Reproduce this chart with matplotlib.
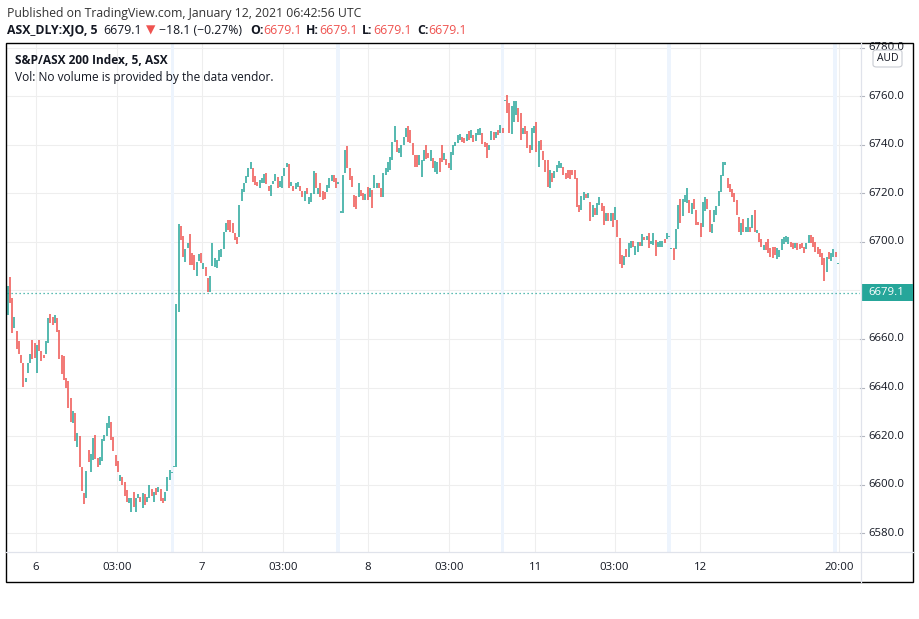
import matplotlib

matplotlib.use("Agg")
import matplotlib.pyplot as plt
import numpy as np
from matplotlib.patches import Rectangle, FancyBboxPatch

W, H = 920, 619

# 5-minute bars, S&P/ASX 200, one list pair per trading day (open, close)
jan06_open = [
    6670, 6685.5, 6677, 6664.5, 6663.3, 6659, 6653.4, 6650, 6642.3, 6646,
    6650, 6659.6, 6658.4, 6646, 6659.6, 6655, 6653.4, 6654, 6658.4, 6670.3,
    6669, 6666.6, 6668.7, 6663.7, 6653.4, 6653, 6644, 6642.7, 6635.7, 6625.4,
    6629.5, 6615.4, 6620, 6607.2, 6596.5, 6594.4, 6614.2, 6605.2, 6610, 6620.4,
    6611, 6608, 6609.7, 6617.9, 6620, 6623.3, 6625.8, 6619.6, 6612.2, 6609.7,
    6601.4, 6603, 6601, 6597.7, 6592.4, 6588.7, 6596.9, 6588.7, 6594.4, 6594.8,
    6590.3, 6596, 6592.8, 6594.4, 6598.2, 6592.8, 6598.6, 6596.9, 6598.2, 6594.4,
    6593.2, 6597.3, 6601.9, 6604.7, 6607.2,
]
jan06_close = [
    6682, 6675, 6662.5, 6669, 6656, 6654, 6650, 6640.2, 6644, 6650,
    6654, 6651.8, 6652.2, 6657.5, 6655, 6651, 6652, 6659, 6668.7, 6666.6,
    6665.8, 6670, 6662.9, 6651.8, 6645.6, 6643, 6639.8, 6631.5, 6625.8, 6630.3,
    6617.9, 6621.2, 6607.2, 6597.3, 6592, 6605.6, 6609.3, 6612.6, 6619, 6610.5,
    6607.2, 6611.3, 6618.8, 6620.4, 6625.4, 6628.2, 6618.4, 6613.8, 6607.6, 6605.2,
    6603.9, 6600, 6595.3, 6592.8, 6594.4, 6594.4, 6590.7, 6594.4, 6596, 6592.8,
    6596.5, 6591.5, 6594.8, 6600, 6595.3, 6596.9, 6595.7, 6599, 6593.2, 6592.4,
    6596.9, 6603, 6606, 6604.7, 6607.2,
]
jan07_open = [
    6607.2, 6671.3, 6706.6, 6702.5, 6691.8, 6697.5, 6703.3, 6695.5, 6694.6, 6686,
    6692.2, 6695.5, 6688.9, 6689.7, 6685.2, 6679.4, 6690, 6689.7, 6689.3, 6692.2,
    6693.8, 6697.1, 6704.1, 6709, 6709, 6707.8, 6703.7, 6702, 6702, 6716.9,
    6720.6, 6724.3, 6726.8, 6730.1, 6730.5, 6727.2, 6724.7, 6722.3, 6724.3, 6724.3,
    6728.5, 6723, 6719, 6724, 6725.2, 6726.8, 6722.7, 6722.3, 6727.2, 6730.9,
    6732.2, 6723, 6723, 6721.9, 6722.7, 6723, 6721, 6717, 6722.3, 6715.7,
    6716.5, 6719.8, 6728.5, 6719.8, 6724.3, 6721, 6720.6, 6720.6, 6722.3, 6725.2,
    6727.6, 6726.4, 6724, 6712,
]
jan07_close = [
    6674.4, 6707.3, 6700.8, 6693.8, 6697, 6699.6, 6690.5, 6690.5, 6688.5, 6691.8,
    6695, 6691.3, 6691.3, 6686, 6679.4, 6686, 6699.6, 6693.4, 6692.6, 6696.7,
    6697.1, 6704, 6707.8, 6705, 6704.1, 6703.7, 6700.8, 6699.2, 6715.3, 6721.9,
    6724.3, 6727.2, 6730.5, 6733, 6724.7, 6723.5, 6723, 6725.6, 6726.4, 6728,
    6724, 6721, 6723.5, 6725.2, 6728, 6722.3, 6725.2, 6727.2, 6730.5, 6732.6,
    6722.3, 6724.7, 6721, 6724.3, 6724.7, 6721, 6718.6, 6721, 6719.8, 6718.6,
    6720.2, 6729.3, 6722.3, 6722.3, 6718.6, 6717.3, 6717.7, 6723.5, 6726.4, 6727.6,
    6724.7, 6722.3, 6724, 6712,
]
jan08_open = [
    6712, 6728.3, 6739.6, 6730.4, 6727.2, 6719.4, 6719, 6718.7, 6721.4, 6720.3,
    6717.3, 6722.6, 6718.4, 6721.4, 6722.1, 6722.1, 6724.5, 6722.1, 6718.7, 6727.6,
    6729, 6729.7, 6733.8, 6741.4, 6742.1, 6736.6, 6735.2, 6739.9, 6743.4, 6747.8,
    6746.2, 6740.7, 6735.9, 6735.9, 6731.8, 6726.9, 6733.5, 6740, 6736.6, 6733.5,
    6734.5, 6728.8, 6728, 6734.5, 6740, 6733.8, 6734.2, 6732.5, 6729.7, 6735.9,
    6739.5, 6740.7, 6742.1, 6743.4, 6742.8, 6741.6, 6745.8, 6743, 6744.1, 6741.6,
    6744.1, 6744.1, 6744.8, 6741.4, 6740.7, 6737.9, 6742.1, 6745.5, 6743, 6746.2,
    6744.8, 6746.9,
]
jan08_close = [
    6727.6, 6738, 6730.4, 6725.6, 6722.6, 6714.3, 6713.5, 6724.2, 6719, 6717.3,
    6719.8, 6717.3, 6722.1, 6713.9, 6727.6, 6724.2, 6722.1, 6718.7, 6728.3, 6730.4,
    6733.1, 6735.2, 6741.4, 6747.6, 6737.2, 6738.6, 6740, 6743.4, 6746.9, 6741,
    6740.7, 6735.9, 6731.1, 6730.8, 6735.9, 6733.8, 6737.9, 6734.1, 6734.5, 6737.9,
    6730.4, 6733.4, 6732.9, 6728.8, 6733.1, 6736.6, 6731.8, 6730.4, 6737.2, 6740,
    6741.1, 6744.1, 6744.4, 6741.1, 6740.7, 6744.4, 6742.1, 6746.2, 6741.4, 6744.8,
    6746.6, 6746.9, 6740.3, 6739.3, 6734.8, 6740, 6745.8, 6742.1, 6745.5, 6744.1,
    6748.2, 6744.8,
]
jan11_open = [
    6757.9, 6760.6, 6757.2, 6744.4, 6749.6, 6752.3, 6755.1, 6753.1, 6744.4, 6748,
    6745.8, 6740, 6738, 6744.8, 6749.6, 6730.8, 6742.1, 6737.5, 6733.8, 6733.8,
    6722.1, 6728.3, 6726.3, 6728.7, 6730.4, 6730.6, 6731.1, 6728.3, 6729.7, 6729.7,
    6729.7, 6729.7, 6726.3, 6715.3, 6713.2, 6717.3, 6719.7, 6718.1, 6716.6, 6710.4,
    6713.9, 6711.1, 6715.3, 6716.2, 6714.9, 6708.6, 6712.1, 6708.6, 6711.8, 6708.9,
    6709.1, 6701.5, 6694.6, 6690.5, 6697, 6693.7, 6697.4, 6700.5, 6694.6, 6696,
    6700.1, 6698.4, 6702.2, 6700.8, 6703.6, 6699.2, 6698.8, 6700.8, 6697.8, 6698.1,
    6698.1, 6701.1, 6701.1, 6702,
]
jan11_close = [
    6757.9, 6753.1, 6744.8, 6756.2, 6758.1, 6758.1, 6749.4, 6742.1, 6747.1, 6744.4,
    6738.6, 6736.6, 6746.9, 6747.6, 6737.2, 6741.6, 6737.9, 6733.8, 6728.7, 6722.8,
    6729.7, 6724.9, 6729.3, 6731.8, 6733.4, 6732.5, 6727.6, 6726, 6726.3, 6726,
    6727.6, 6726, 6714.6, 6712.5, 6719.1, 6720.5, 6718.3, 6720.1, 6708.7, 6715.3,
    6711.1, 6716, 6718.4, 6712.9, 6707, 6711.8, 6708.6, 6711.8, 6706.1, 6714.6,
    6702.2, 6690.9, 6689.2, 6694.2, 6693.7, 6699.7, 6700.5, 6698.1, 6698.4, 6700.1,
    6698.4, 6703.3, 6700.8, 6702.5, 6697.4, 6700.5, 6703.6, 6694.2, 6700.1, 6700.5,
    6700.5, 6699.5, 6703.6, 6702,
]
jan12_open = [
    6697, 6697.4, 6697, 6705.2, 6717.6, 6710.7, 6716.3, 6716, 6717.3, 6711.4,
    6717.6, 6713.2, 6708.4, 6707.7, 6706.1, 6712.9, 6717.6, 6713.2, 6703.6, 6708.4,
    6711.1, 6714.9, 6720.7, 6727.2, 6731.8, 6726.3, 6724, 6721.7, 6720.3, 6717.3,
    6710.4, 6702.9, 6709.4, 6704.3, 6704.3, 6706.1, 6705.7, 6713.2, 6703.6, 6703.6,
    6701.1, 6696.7, 6700.1, 6701.1, 6697.4, 6698.1, 6698.1, 6692.9, 6693.9, 6696.7,
    6699.2, 6700.1, 6699.2, 6700.1, 6699.7, 6697.4, 6699.7, 6699.2, 6699.7, 6698.1,
    6697, 6699.5, 6702.9, 6702, 6700.1, 6698.1, 6697, 6695.3, 6693.3, 6687.7,
    6696, 6692.3, 6693.9, 6696, 6690.9,
]
jan12_close = [
    6697, 6692.6, 6705.2, 6715.3, 6708, 6717.6, 6719.4, 6722.2, 6711.8, 6716.2,
    6713.5, 6707, 6707, 6702, 6716.6, 6718.7, 6713.5, 6704.3, 6707.4, 6713.2,
    6714.9, 6721.2, 6727.6, 6733.1, 6733.1, 6722.1, 6720.7, 6718.4, 6716.6, 6711.1,
    6704.3, 6708, 6704.3, 6706.1, 6709.8, 6703.9, 6711.1, 6703.9, 6705, 6700.1,
    6698.1, 6698.8, 6696.7, 6695.6, 6693.9, 6693.3, 6694.6, 6697.4, 6696.7, 6701.1,
    6702, 6702.5, 6702, 6697.8, 6697, 6699.5, 6696.7, 6697, 6697.4, 6695.6,
    6699.7, 6702.9, 6699.5, 6698.1, 6696, 6695.1, 6693.9, 6690.5, 6684, 6693.7,
    6692.9, 6695.6, 6697, 6693.7, 6690.9,
]

last_price = 6679.1
price_ticks = [6580, 6600, 6620, 6640, 6660, 6680, 6700, 6720, 6740, 6760, 6780]
time_labels = ["6", "03:00", "7", "03:00", "8", "03:00", "11", "03:00", "12", "20:00"]
time_label_bars = [12.6, 48.6, 86.4, 122.4, 160.1, 196.1, 234.4, 269.7, 307.7, 369.5]
session_break_bars = [73.1, 146.8, 220.1, 293.9, 367.7]

UP = "#26a69a"
DOWN = "#ef5350"
GRID = "#eeeeee"
TEXT = "#131722"


def fx(px):
    return px / W


def fy(py):
    return 1 - py / H


opens = np.array(jan06_open + jan07_open + jan08_open + jan11_open + jan12_open)
closes = np.array(jan06_close + jan07_close + jan08_close + jan11_close + jan12_close)
idx = np.arange(len(opens))

fig = plt.figure(figsize=(W / 100, H / 100), dpi=100)
plt.rcParams["font.family"] = ["Open Sans", "DejaVu Sans"]

ax = fig.add_axes([fx(7), fy(552), fx(860) - fx(7), fy(44) - fy(552)])
ax.set_xlim(-0.31, 378.8)
ax.set_ylim(6572.2, 6781.6)
for spine in ax.spines.values():
    spine.set_visible(False)
ax.set_xticks([])
ax.set_yticks([])

for p in price_ticks:
    ax.axhline(p, color=GRID, lw=0.8, zorder=0)
for b in time_label_bars:
    ax.axvline(b, color=GRID, lw=0.8, zorder=0)
for b in session_break_bars:
    ax.axvspan(b - 0.7, b + 0.7, color="#edf4fd", lw=0, zorder=0.5)

lo = np.minimum(opens, closes)
hi = np.maximum(opens, closes)
small = (hi - lo) < 0.6
hi = np.where(small, lo + 0.6, hi)
colors = np.where(closes >= opens, UP, DOWN)
ax.vlines(idx, lo, hi, colors=colors, lw=1.1, zorder=3)

ax.axhline(last_price, color=UP, lw=0.9, ls=(0, (1, 2.2)), zorder=2)

# outer frame and axis separators
fig.add_artist(Rectangle((fx(6), fy(582)), fx(913) - fx(6), fy(43) - fy(582),
                         transform=fig.transFigure, fill=False, ec="black", lw=1.0))
fig.add_artist(plt.Line2D([fx(861), fx(861)], [fy(43), fy(582)], transform=fig.transFigure,
                          color="#e0e3eb", lw=0.9))
fig.add_artist(plt.Line2D([fx(6), fx(913)], [fy(552), fy(552)], transform=fig.transFigure,
                          color="#e0e3eb", lw=0.9))

# price scale labels (the one behind the last-price badge is hidden)
ytrans = ax.get_yaxis_transform()
for p in price_ticks:
    if abs(p - last_price) < 5:
        continue
    ax.plot([1.0, 1.005], [p, p], transform=ytrans, color="#b2b5be", lw=0.8, clip_on=False)
    ax.text(1.0095, p, f"{p:.1f}", transform=ytrans, ha="left", va="center",
            fontsize=8.2, color=TEXT, clip_on=False)

# AUD badge over the top label
fig.add_artist(FancyBboxPatch((fx(873), fy(67)), fx(902) - fx(873), fy(50) - fy(67),
                              boxstyle="round,pad=0,rounding_size=0.004",
                              transform=fig.transFigure, fc="white", ec="#c9ccd3", lw=0.8))
fig.text(fx(887.5), fy(58.5), "AUD", ha="center", va="center", fontsize=7.5, color=TEXT)

# last price badge
y_last = ax.transData.transform((0, last_price))[1] / fig.dpi / (H / 100)
fig.add_artist(Rectangle((fx(861), y_last - 8.5 / H), fx(913) - fx(861), 17 / H,
                         transform=fig.transFigure, fc=UP, ec="none"))
fig.text(fx(868), y_last, f"{last_price:.1f}", ha="left", va="center", fontsize=8.2,
         color="white")

# time scale labels
xtrans = ax.get_xaxis_transform()
for b, lab in zip(time_label_bars, time_labels):
    ax.text(b, -0.03, lab, transform=xtrans, ha="center", va="center",
            fontsize=8.2, color=TEXT, clip_on=False)

# header
fig.text(fx(7), fy(13), "Published on TradingView.com, January 12, 2021 06:42:56 UTC",
         ha="left", va="center", fontsize=8.8, color="#333333")
header_parts = [
    (7, "ASX_DLY:XJO, 5", "bold", TEXT),
    (103, "6679.1", "normal", TEXT),
    (146, "\u25bc", "normal", DOWN),
    (159, "\u221218.1 (\u22120.27%)", "normal", TEXT),
    (250, "O:", "bold", TEXT),
    (263, "6679.1", "normal", DOWN),
    (306, "H:", "bold", TEXT),
    (319, "6679.1", "normal", DOWN),
    (362, "L:", "bold", TEXT),
    (373, "6679.1", "normal", DOWN),
    (417, "C:", "bold", TEXT),
    (428, "6679.1", "normal", DOWN),
]
for px, s, weight, col in header_parts:
    fig.text(fx(px), fy(30), s, ha="left", va="center", fontsize=8.8,
             fontweight=weight, color=col, family=["Open Sans", "DejaVu Sans"])

fig.text(fx(15), fy(61), "S&P/ASX 200 Index, 5, ASX", ha="left", va="center",
         fontsize=8.6, fontweight="bold", color=TEXT)
fig.text(fx(15), fy(77), "Vol: No volume is provided by the data vendor.", ha="left",
         va="center", fontsize=8.6, color=TEXT)

fig.savefig("out.png", dpi=100, facecolor="white")
